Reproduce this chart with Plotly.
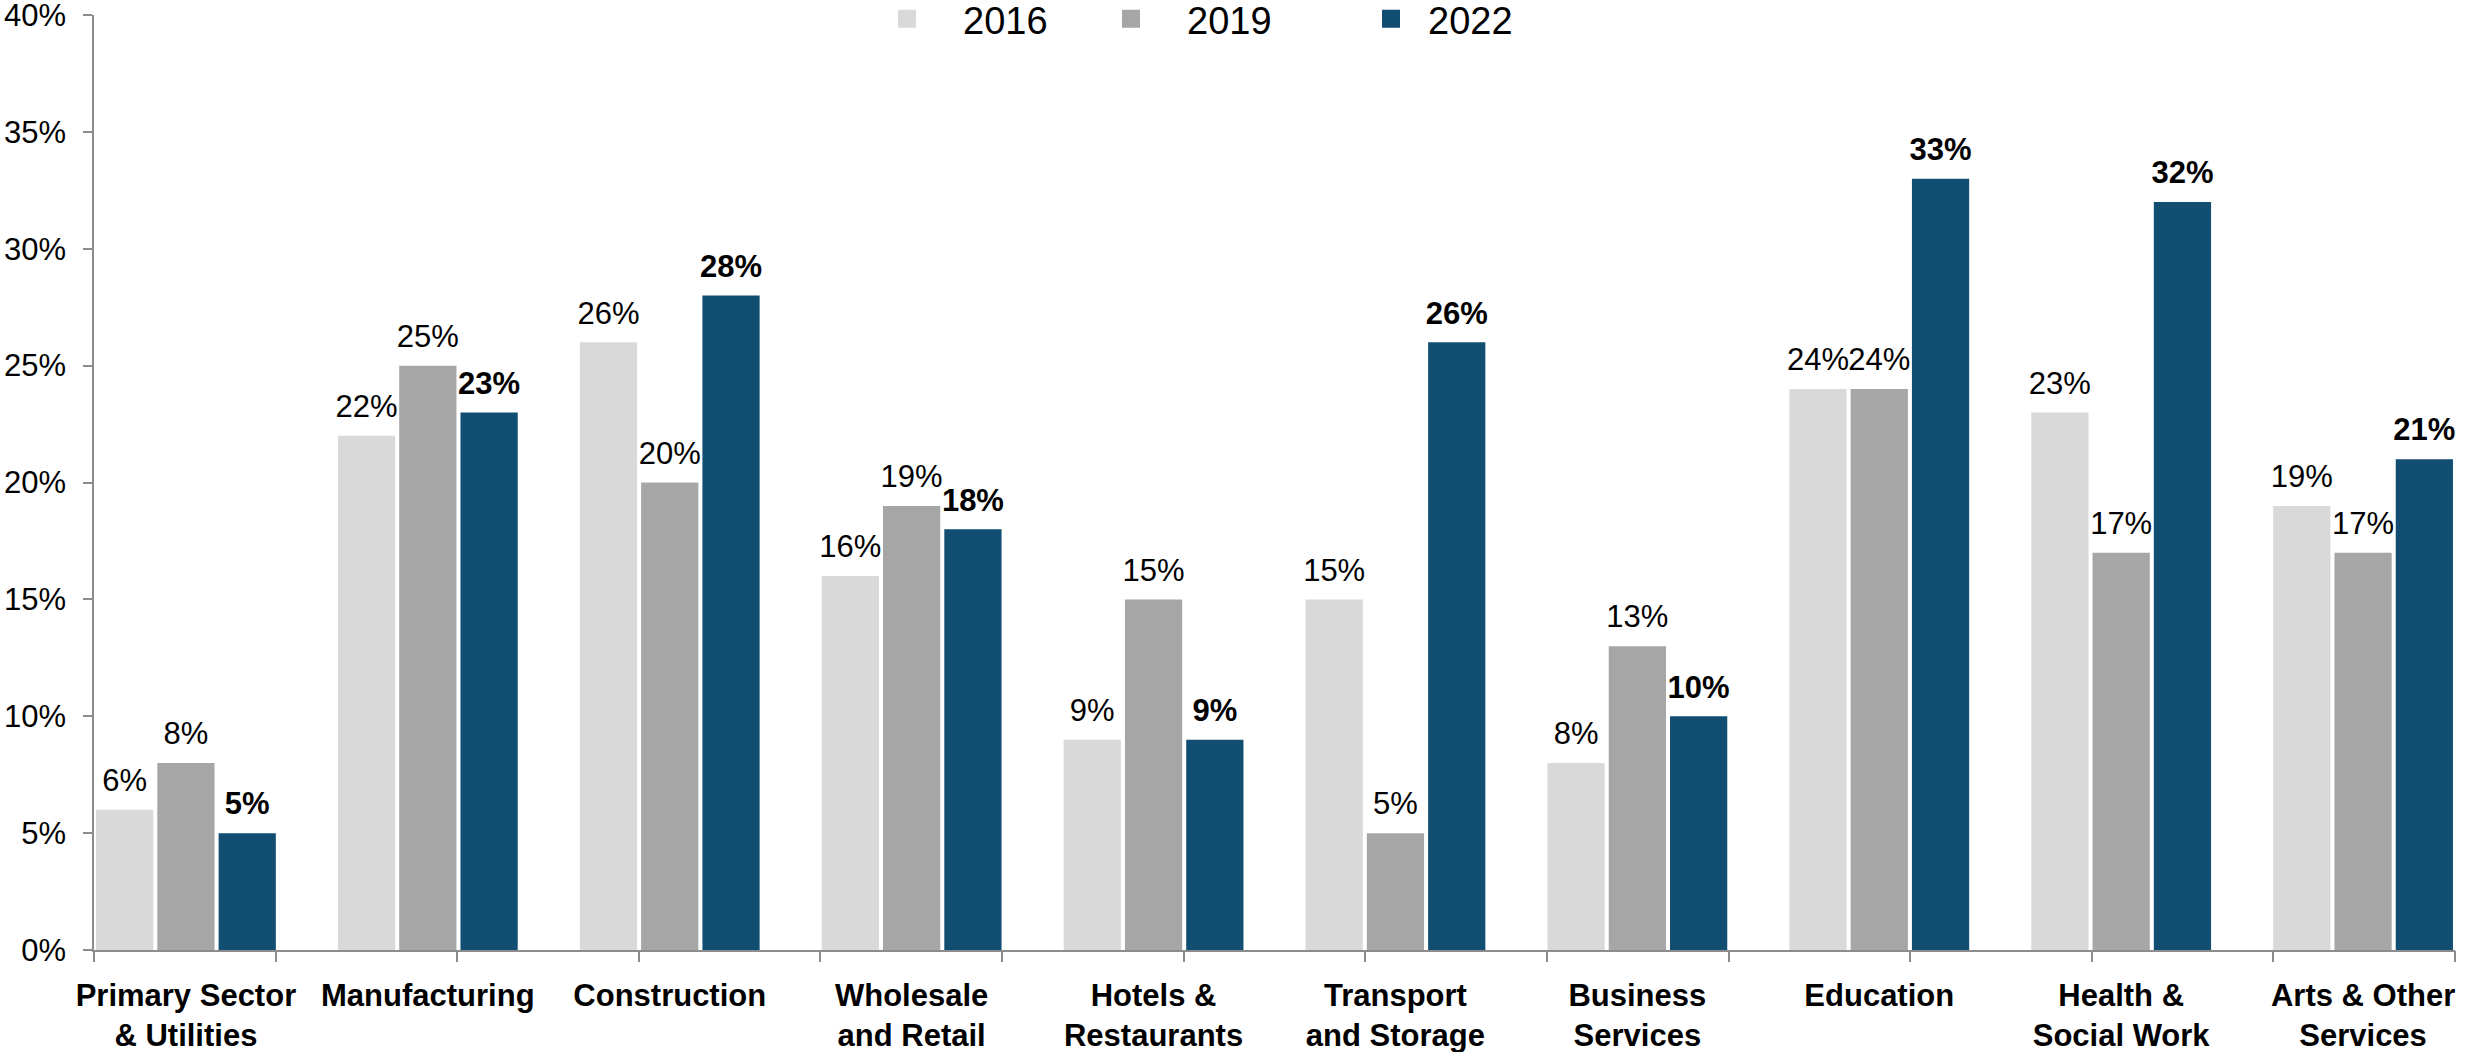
import plotly.graph_objects as go

# Sector shares by survey year (percent)
sectors = [
    "Primary Sector<br>& Utilities",
    "Manufacturing",
    "Construction",
    "Wholesale<br>and Retail",
    "Hotels &<br>Restaurants",
    "Transport<br>and Storage",
    "Business<br>Services",
    "Education",
    "Health &<br>Social Work",
    "Arts & Other<br>Services",
]
years = ["2016", "2019", "2022"]
share_2016 = [6, 22, 26, 16, 9, 15, 8, 24, 23, 19]
share_2019 = [8, 25, 20, 19, 15, 5, 13, 24, 17, 17]
share_2022 = [5, 23, 28, 18, 9, 26, 10, 33, 32, 21]
y_ticks = [0, 5, 10, 15, 20, 25, 30, 35, 40]

colors = ["#D9D9D9", "#A6A6A6", "#114E72"]
FONT = "Liberation Sans, Arial, sans-serif"
W, H = 2471, 1052
ML, MR, MT, MB = 94, 16, 15, 102

fig = go.Figure()

series = [share_2016, share_2019, share_2022]
for i, (yr, vals) in enumerate(zip(years, series)):
    fig.add_trace(go.Bar(
        x=sectors, y=vals, name=yr,
        marker=dict(color=colors[i], line=dict(width=0)),
        showlegend=False, hoverinfo="skip",
    ))

# value labels, grouped the same way as the bars
for i, (yr, vals) in enumerate(zip(years, series)):
    bold = yr == "2022"
    fig.add_trace(go.Scatter(
        x=sectors, y=vals, mode="markers+text",
        text=[f"{v}%" for v in vals], textposition="top center",
        textfont=dict(family=FONT, size=31, color="black",
                      weight="bold" if bold else "normal"),
        marker=dict(size=16, opacity=0, color=colors[i]),
        cliponaxis=False, showlegend=False, hoverinfo="skip",
    ))

# legend entries (one legend per year so each sits at its own spot);
# kept on the secondary x axis so they do not join the label grouping
legend_names = ["legend", "legend2", "legend3"]
for i, yr in enumerate(years):
    fig.add_trace(go.Scatter(
        x=[None], y=[None], xaxis="x2", mode="markers", name=yr,
        marker=dict(symbol="square", size=16, color=colors[i],
                    line=dict(width=2, color=colors[i])),
        legend=legend_names[i], showlegend=True, hoverinfo="skip",
    ))

plot_w = W - ML - MR


def px_to_paper(px):
    return (px - ML) / plot_w


legend_px = [851, 1075, 1354]
legend_item_w = [102, 102, 64]


def legend_style(k):
    return dict(
        x=px_to_paper(legend_px[k]), xanchor="left",
        orientation="h", yanchor="middle",
        yref="container", y=1 - 19 / H,
        font=dict(family=FONT, size=38, color="black"),
        bgcolor="rgba(0,0,0,0)", borderwidth=0, itemwidth=legend_item_w[k],
    )


axis_line = "#8C8C8C"

fig.update_layout(
    width=W, height=H,
    margin=dict(l=ML, r=MR, t=MT, b=MB, pad=0, autoexpand=False),
    paper_bgcolor="white", plot_bgcolor="white",
    barmode="group", bargap=0.24, bargroupgap=0.066,
    scattermode="group", scattergap=0.24,
    font=dict(family=FONT, color="black"),
    legend=legend_style(0),
    legend2=legend_style(1),
    legend3=legend_style(2),
    xaxis=dict(
        type="category", range=[-0.38, 9.38],
        showline=True, linecolor=axis_line, linewidth=1.5,
        ticks="", showgrid=False, zeroline=False,
        tickfont=dict(family=FONT, size=31, color="black", weight="bold"),
        ticklabelstandoff=17,
    ),
    # tick marks along the category axis
    xaxis2=dict(
        overlaying="x", anchor="y", side="bottom", range=[0, 13],
        tickvals=list(range(14)), showticklabels=False,
        ticks="outside", ticklen=11, tickwidth=1.5, tickcolor=axis_line,
        showline=False, showgrid=False, zeroline=False,
    ),
    yaxis=dict(
        range=[0, 40], tickvals=y_ticks,
        ticktext=[f"{v}%" for v in y_ticks],
        showline=True, linecolor=axis_line, linewidth=1.5,
        ticks="outside", ticklen=9, tickwidth=1.5, tickcolor=axis_line,
        showgrid=False, zeroline=False,
        tickfont=dict(family=FONT, size=31, color="black"),
        ticklabelstandoff=11, ticklabeloverflow="allow",
    ),
)

fig.write_html("out.html")
